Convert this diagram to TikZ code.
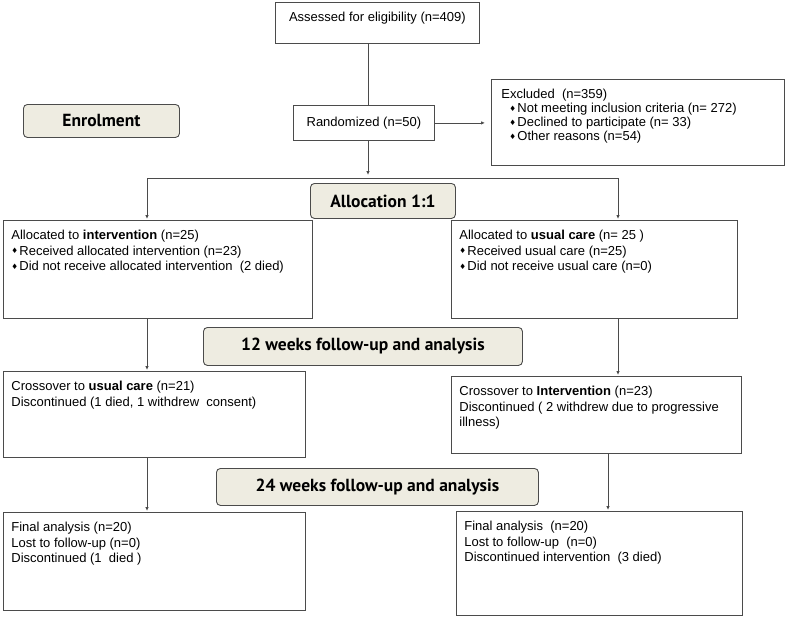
\documentclass[tikz,border=0pt]{standalone}
\usepackage{fontspec}
\setmainfont{Liberation Sans}
\newfontfamily\headfont{PT Sans}
\newfontfamily\symfont{DejaVu Sans}
\usetikzlibrary{arrows.meta}
\definecolor{beige}{RGB}{238,236,225}
\definecolor{edge}{RGB}{75,75,75}
\newcommand{\boxtext}[3]{\parbox[t][#2][t]{#1}{\raggedright #3}}
\newcommand{\dia}{\makebox[8pt][l]{\raisebox{1.5pt}{\symfont\fontsize{7.5}{7.5}\selectfont ♦}}}

\begin{document}
\begin{tikzpicture}[x=1pt, y=-1pt,
		every node/.style={font=\fontsize{13}{15.5}\selectfont},
		box/.style={draw=edge, line width=0.8pt, anchor=north west, inner xsep=8pt, inner ysep=10pt},
		stage/.style={draw=edge, line width=0.9pt, fill=beige, rounded corners=4pt, anchor=north west, inner sep=0pt, font=\headfont\bfseries\fontsize{17.5}{20}\selectfont},
		link/.style={draw=edge, line width=0.8pt},
		arr/.style={link, -{Latex[length=4pt,width=3.5pt]}, shorten >=1pt}]
				\useasboundingbox (0,0) rectangle (787,625);
				\coordinate (mx) at (368,0);
				\coordinate (lx) at (147,0);
				\coordinate (rx) at (618,0);
				\coordinate (rx2) at (608,0);
				\coordinate (bar) at (0,178);
				
				\node[box, inner xsep=0pt] (assess) at (275,2) {\parbox[t][21pt][t]{204pt}{\centering Assessed for eligibility (n=409)}};
				\node[box, inner sep=0pt, minimum width=141pt, minimum height=35pt] (rand) at (293,105) {Randomized (n=50)};
				\node[box, inner xsep=10pt, font=\fontsize{13}{14}\selectfont] (excl) at (491,79) {\boxtext{273pt}{66pt}{Excluded~ (n=359)\\
						\hspace*{8pt}\dia Not meeting inclusion criteria (n= 272)\\
						\hspace*{8pt}\dia Declined to participate (n= 33)\\
						\hspace*{8pt}\dia Other reasons (n=54)}};
				\node[stage, minimum width=156pt, minimum height=33pt] (enrol) at (23,104) {Enrolment};
				
				\node[stage, minimum width=145pt, minimum height=35pt] (alloc) at (310,183) {Allocation 1:1};
				\node[box] (lalloc) at (3,220) {\boxtext{293pt}{78pt}{Allocated to \textbf{intervention} (n=25)\\
						\dia Received allocated intervention (n=23)\\
						\dia Did not receive allocated intervention~ (2 died)}};
				\node[box] (ralloc) at (451,220) {\boxtext{270pt}{78pt}{Allocated to \textbf{usual care} (n= 25 )\\
						\dia Received usual care (n=25)\\
						\dia Did not receive usual care (n=0)}};
				
				\node[stage, minimum width=319pt, minimum height=38pt] (week12) at (203,327) {12 weeks follow-up and analysis};
				\node[box] (lcross) at (3,371) {\boxtext{286pt}{66pt}{Crossover to \textbf{usual care} (n=21)\\
						Discontinued (1 died, 1 withdrew~ consent)}};
				\node[box] (rcross) at (451,376) {\boxtext{274pt}{57pt}{Crossover to \textbf{Intervention} (n=23)\\
						Discontinued ( 2 withdrew due to progressive\\
						illness)}};
				
				\node[stage, minimum width=322pt, minimum height=37pt] (week24) at (216,468) {24 weeks follow-up and analysis};
				\node[box] (lfinal) at (3,512) {\boxtext{286pt}{78pt}{Final analysis (n=20)\\
						Lost to follow-up (n=0)\\
						Discontinued (1~ died )}};
				\node[box] (rfinal) at (456,511) {\boxtext{270pt}{84pt}{Final analysis~ (n=20)\\
						Lost to follow-up~ (n=0)\\
						Discontinued intervention~ (3 died)}};
				
				\draw[link] (assess.south -| mx) -- (rand.north -| mx);
				\draw[arr, shorten >=6pt] (rand.east) -- (excl.west |- rand.east);
				\draw[arr, shorten >=3pt] (rand.south -| mx) -- (bar -| mx);
				\draw[link] (bar -| lx) -- (bar -| rx);
				\draw[arr] (bar -| lx) -- (lalloc.north -| lx);
				\draw[arr] (bar -| rx) -- (ralloc.north -| rx);
				\draw[arr] (lalloc.south -| lx) -- (lcross.north -| lx);
				\draw[arr] (ralloc.south -| rx) -- (rcross.north -| rx);
				\draw[arr] (lcross.south -| lx) -- (lfinal.north -| lx);
				\draw[arr] (rcross.south -| rx2) -- (rfinal.north -| rx2);
\end{tikzpicture}
\end{document}
